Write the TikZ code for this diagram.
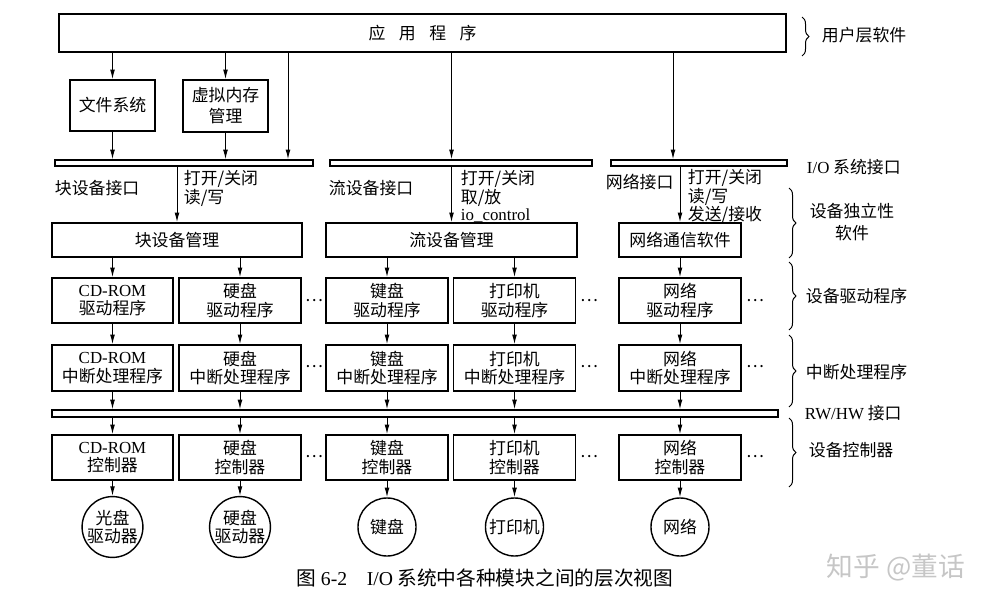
\documentclass[tikz,border=0pt]{standalone}
\usepackage{fontspec}
\setmainfont{Liberation Serif}
\newfontfamily\cjk{Noto Sans CJK SC}
\usetikzlibrary{arrows.meta, positioning, decorations.pathreplacing}
\newcommand{\entxt}[1]{{\rmfamily #1}}

\begin{document}
\begin{tikzpicture}[x=0.025cm, y=-0.025cm,
    every node/.style={font=\cjk\fontsize{12}{13}\selectfont},
    box/.style 2 args={draw, line width=1.1pt, align=center, inner sep=0pt, minimum width=#1*0.025cm, minimum height=#2*0.025cm},
    bar/.style={draw, line width=1pt, inner sep=0pt, minimum width=#1*0.025cm, minimum height=0.15cm},
    dev/.style={draw, circle, line width=1pt, align=center, inner sep=0pt, minimum size=1.45cm},
    arr/.style={line width=0.7pt, -{Latex[length=2.4mm, width=1.2mm]}},
    lbl/.style={anchor=west, align=left, font=\cjk\fontsize{12}{12}\selectfont},
    brc/.style={decorate, decoration={brace, amplitude=5pt}, line width=0.7pt}]
  \useasboundingbox (0,0) rectangle (1001,605);

  % user layer
  \node[box={727}{38}] (app) at (422.5,33) {应\hspace{0.8em}用\hspace{0.8em}程\hspace{0.8em}序};
  \node[box={85}{51}] (fs) at (112.5,105.5) {文件系统};
  \node[box={85}{52}, font=\cjk\fontsize{12}{15}\selectfont] (vm) at (225.5,106) {虚拟内存\\管理};

  % I/O system interface
  \node[bar=258] (bbar) at (184,163) {};
  \node[bar=262] (sbar) at (461,163) {};
  \node[bar=176] (nbar) at (699,163) {};

  \node[lbl] (bif) at (50,188) {块设备接口};
  \node[lbl] (bops) at (179,188.5) {打开/关闭\\读/写};
  \node[lbl] (sif) at (324,188) {流设备接口};
  \node[lbl] (sops) at (456,196.5) {打开/关闭\\取/放\\\entxt{io\_control}};
  \node[lbl] (nif) at (601,182) {网络接口};
  \node[lbl] (nops) at (683,196.5) {打开/关闭\\读/写\\发送/接收};

  % device independent software
  \node[box={250}{34}] (bm) at (177,240) {块设备管理};
  \node[box={251}{34}] (sm) at (451.5,240) {流设备管理};
  \node[box={122}{34}] (nm) at (680,240) {网络通信软件};

  % drivers
  \node[box={121}{45}] (d1) at (112.5,300.5) {\entxt{CD-ROM}\\驱动程序};
  \node[box={122}{45}] (d2) at (240,300.5) {硬盘\\驱动程序};
  \node[box={122}{45}] (d3) at (387,300.5) {键盘\\驱动程序};
  \node[box={122}{45}] (d4) at (514.5,300.5) {打印机\\驱动程序};
  \node[box={122}{45}] (d5) at (680,300.5) {网络\\驱动程序};

  % interrupt handlers
  \node[box={121}{46}] (i1) at (112.5,368) {\entxt{CD-ROM}\\中断处理程序};
  \node[box={122}{46}] (i2) at (240,368) {硬盘\\中断处理程序};
  \node[box={122}{46}] (i3) at (387,368) {键盘\\中断处理程序};
  \node[box={122}{46}] (i4) at (514.5,368) {打印机\\中断处理程序};
  \node[box={122}{46}] (i5) at (680,368) {网络\\中断处理程序};

  \node[bar=726, minimum height=0.175cm] (rw) at (415,413.5) {};

  % controllers
  \node[box={121}{45}] (c1) at (112.5,457.5) {\entxt{CD-ROM}\\控制器};
  \node[box={122}{45}] (c2) at (240,457.5) {硬盘\\控制器};
  \node[box={122}{45}] (c3) at (387,457.5) {键盘\\控制器};
  \node[box={122}{45}] (c4) at (514.5,457.5) {打印机\\控制器};
  \node[box={122}{45}] (c5) at (680,457.5) {网络\\控制器};

  % devices
  \node[dev] (v1) at (112.5,527) {光盘\\驱动器};
  \node[dev] (v2) at (240,527) {硬盘\\驱动器};
  \node[dev] (v3) at (387,527) {键盘};
  \node[dev] (v4) at (514.5,527) {打印机};
  \node[dev] (v5) at (680,527) {网络};

  \foreach \r/\yy in {a/301, b/367, c/457}
    \foreach \xx [count=\j] in {314,589,755}
      \node[inner sep=0pt] (dot\r\j) at (\xx,\yy) {…};

  % connectors
  \coordinate (p1) at (288,0);
  \coordinate (p2) at (673,0);
  \draw[arr] (app.south -| fs.north) -- (fs.north);
  \draw[arr] (app.south -| vm.north) -- (vm.north);
  \draw[arr] (app.south -| p1) -- (bbar.north -| p1);
  \draw[arr] (app.south -| sm.north) -- (sbar.north -| sm.north);
  \draw[arr] (app.south -| p2) -- (nbar.north -| p2);
  \draw[arr] (fs.south) -- (bbar.north -| fs.south);
  \draw[arr] (vm.south) -- (bbar.north -| vm.south);
  \draw[arr] (bbar.south -| bm.north) -- (bm.north);
  \draw[arr] (sbar.south -| sm.north) -- (sm.north);
  \draw[arr] (nbar.south -| nm.north) -- (nm.north);
  \draw[arr] (bm.south -| d1.north) -- (d1.north);
  \draw[arr] (bm.south -| d2.north) -- (d2.north);
  \draw[arr] (sm.south -| d3.north) -- (d3.north);
  \draw[arr] (sm.south -| d4.north) -- (d4.north);
  \draw[arr] (nm.south) -- (d5.north);
  \foreach \k in {1,...,5} {
    \draw[arr] (d\k) -- (i\k);
    \draw[arr] (i\k.south) -- (rw.north -| i\k.south);
    \draw[arr] (rw.south -| c\k.north) -- (c\k.north);
    \draw[arr] (c\k) -- (v\k);
  }

  % layers on the right
  \draw[brc] (802,17) -- (802,56);
  \node[lbl] (l1) at (817,35) {用户层软件};
  \node[lbl] (l2) at (802,167) {\entxt{I/O} 系统接口};
  \draw[brc] (789,188) -- (789,258);
  \node[align=center, font=\cjk\fontsize{12}{15}\selectfont] (l3) at (852,222) {设备独立性\\软件};
  \draw[brc] (789,262) -- (789,330);
  \node[lbl] (l4) at (801,296) {设备驱动程序};
  \draw[brc] (789,335) -- (789,407);
  \node[lbl] (l5) at (801,372) {中断处理程序};
  \node[lbl] (l6) at (800,413) {\entxt{RW/HW} 接口};
  \draw[brc] (789,418) -- (789,487);
  \node[lbl] (l7) at (804,450) {设备控制器};

  % caption
  \node[font=\cjk\fontsize{14}{16}\selectfont] (cap) at (485,578) {图 \entxt{6-2}\hspace{1em}\entxt{I/O} 系统中各种模块之间的层次视图};
  \node[text=gray!45, font=\cjk\fontsize{19}{20}\selectfont] (wm) at (896,568) {知乎 @董话};
\end{tikzpicture}
\end{document}
